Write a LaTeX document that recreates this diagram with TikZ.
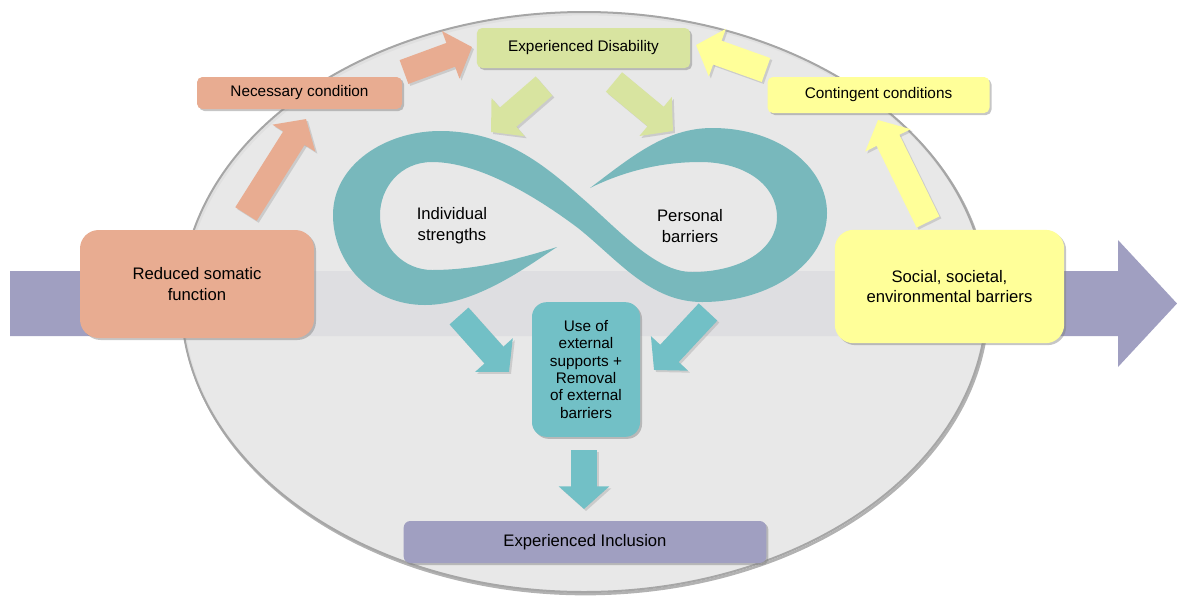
\documentclass[tikz,border=0pt]{standalone}
\usepackage{fontspec}
\setmainfont{Liberation Sans}
\usetikzlibrary{shadows, arrows.meta}

\definecolor{salmonbox}{HTML}{E8AC91}
\definecolor{disgreen}{HTML}{D8E4A0}
\definecolor{softyellow}{HTML}{FFFF99}
\definecolor{tealbox}{HTML}{72C0C6}
\definecolor{infteal}{HTML}{78B8BC}
\definecolor{inclpurple}{HTML}{A09FC1}
\definecolor{ellgray}{HTML}{E5E5E5}
\definecolor{ellline}{HTML}{A6A6A6}

\tikzset{
    box/.style={rounded corners=4pt, align=center, text=black, inner sep=2pt,
        drop shadow={shadow xshift=1.5pt, shadow yshift=-1.5pt, opacity=.45}},
    smallbox/.style={box, font=\fontsize{11.5}{13.5}\selectfont},
    bigbox/.style={box, rounded corners=14pt, font=\fontsize{12.5}{15.5}\selectfont},
    lobetext/.style={align=center, font=\fontsize{12.5}{15.5}\selectfont},
    blockarrow/.style={line width=19pt, -{Triangle[width=37pt,length=17pt]}},
}

\begin{document}
\begin{tikzpicture}[x=0.75pt, y=-0.75pt]
    \useasboundingbox (0,0) rectangle (1177,597);

    % Purple axis arrow behind everything
    \fill[inclpurple] (10,271) -- (1118,271) -- (1118,240) -- (1177,303.5)
        -- (1118,367) -- (1118,336) -- (10,336) -- cycle;

    % The big ellipse
    \draw[black!30, line width=2pt, transform canvas={shift={(1pt,-1.5pt)}}] (584,302) ellipse [x radius=302pt, y radius=217.5pt];
    \filldraw[fill=ellgray, fill opacity=.9, draw=ellline, line width=1.5pt] (584,302) ellipse [x radius=302pt, y radius=217.5pt];

    % Infinity ribbon
    \fill[infteal] (557,247)
        .. controls (525,268) and (475,305) .. (425,305)
        .. controls (370,305) and (333,262) .. (333,215)
        .. controls (333,165) and (385,131) .. (440,131)
        .. controls (505,131) and (545,166) .. (582,198)
        .. controls (618,229) and (655,272) .. (692,272)
        .. controls (740,272) and (777,250) .. (777,217)
        .. controls (777,185) and (745,162) .. (700,162)
        .. controls (660,162) and (622,172) .. (590,188)
        .. controls (630,158) and (665,128) .. (712,128)
        .. controls (780,128) and (827,168) .. (827,213)
        .. controls (827,262) and (772,302) .. (702,302)
        .. controls (650,302) and (618,260) .. (578,228)
        .. controls (538,198) and (480,162) .. (432,162)
        .. controls (400,162) and (380,188) .. (380,215)
        .. controls (380,248) and (405,270) .. (432,270)
        .. controls (480,270) and (525,257) .. (557,247) -- cycle;

    % Boxes
    \node[smallbox, fill=disgreen, minimum width=160pt, minimum height=30pt] (disability) at (583.5,48) {Experienced Disability};
    \node[smallbox, fill=salmonbox, minimum width=153.75pt, minimum height=24pt] (necessary) at (299.5,93) {Necessary condition};
    \node[smallbox, fill=softyellow, minimum width=166.5pt, minimum height=27pt] (contingent) at (878.5,95) {Contingent conditions};
    \node[bigbox, fill=salmonbox, minimum width=175.5pt, minimum height=81pt] (somatic) at (197,284) {Reduced somatic\\function};
    \node[bigbox, fill=softyellow, minimum width=172pt, minimum height=85pt] (social) at (949.5,286.5) {Social, societal,\\environmental barriers};
    \node[box, fill=tealbox, rounded corners=11pt, minimum width=81pt, minimum height=101pt,
        font=\fontsize{11.5}{13}\selectfont] (supports) at (586,369.5) {Use of\\external\\supports +\\Removal\\of external\\barriers};
    \node[box, fill=inclpurple, rounded corners=5pt, minimum width=272pt, minimum height=31.5pt,
        font=\fontsize{12.5}{15}\selectfont] (inclusion) at (585,542) {Experienced Inclusion};

    % Texts in the lobes
    \node[lobetext] (strengths) at (452,226) {Individual\\strengths};
    \node[lobetext] (personal) at (690,226) {Personal\\barriers};

    % Ends of the block arrows
    \coordinate (a1) at (246,214); \coordinate (b1) at (306,119);
    \coordinate (a2) at (404,72);  \coordinate (b2) at (472,47);
    \coordinate (a3) at (544,86);  \coordinate (b3) at (491,132);
    \coordinate (a4) at (614,82);  \coordinate (b4) at (673,131);
    \coordinate (a5) at (766,70);  \coordinate (b5) at (696,45);
    \coordinate (a6) at (928,222); \coordinate (b6) at (878,120);
    \coordinate (a7) at (459,316); \coordinate (b7) at (509,372);
    \coordinate (a8) at (708,312); \coordinate (b8) at (654,370);
    \coordinate (a9) at (584,450); \coordinate (b9) at (584,509);

    % Block arrows with a light shadow
    \foreach \src/\dst/\col in {a1/b1/salmonbox, a2/b2/salmonbox, a3/b3/disgreen, a4/b4/disgreen,
            a5/b5/softyellow, a6/b6/softyellow, a7/b7/tealbox, a8/b8/tealbox, a9/b9/tealbox} {
        \draw[blockarrow, black!40, opacity=.35, transform canvas={shift={(1.5pt,-1.5pt)}}] (\src) -- (\dst);
        \draw[blockarrow, \col] (\src) -- (\dst);
    }
\end{tikzpicture}
\end{document}
